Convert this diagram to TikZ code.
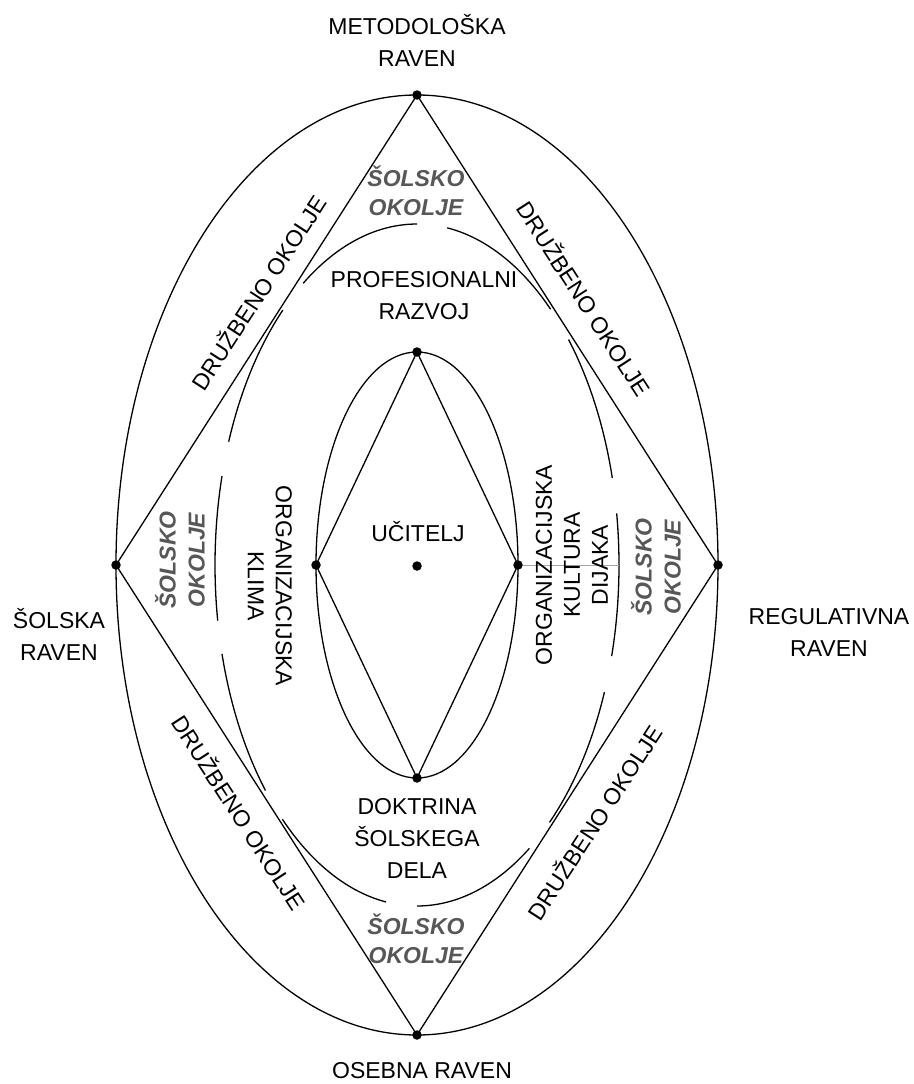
\documentclass[tikz,border=0pt]{standalone}
\usepackage{fontspec}
\setmainfont{Liberation Sans}
\begin{document}
\begin{tikzpicture}[x=1pt,y=-1pt,
  ln/.style={line width=1.3pt, black},
  dotnode/.style={circle, fill=black, inner sep=0pt, minimum size=9.5pt},
  lbl/.style={align=center, inner sep=0pt, font=\fontsize{23}{32}\selectfont},
  rlbl/.style={align=center, inner sep=0pt, font=\fontsize{23}{28}\selectfont},
  grey/.style={align=center, inner sep=0pt, text=black!66, font=\fontsize{23}{29}\selectfont\bfseries\itshape}
]
\fill[white] (0,0) rectangle (913,1084);
\useasboundingbox (0,0) rectangle (913,1084);

% centre
\coordinate (O) at (417,565);
% outer ellipse and diamond
\draw[ln] (O) ellipse [x radius=301, y radius=470];
\node[dotnode] (top) at (417,95) {};
\node[dotnode] (left) at (116,565) {};
\node[dotnode] (bottom) at (417,1035) {};
\node[dotnode] (right) at (718,565) {};
\draw[ln] (top.center) -- (left.center) -- (bottom.center) -- (right.center) -- cycle;

% middle broken ellipse
\foreach \a/\b in {90/124.3, 131.6/158.8, 164.9/189.4, 195.1/221.4, 228.2/261.2,
                   270/303.8, 311/338.1, 344.5/368.7, 374.8/401.4, 408.6/441.4}
  \draw[ln] plot[domain=\a:\b, samples=40, smooth] ({417+202*cos(\x)},{565-341*sin(\x)});

% inner ellipse and diamond
\draw[ln] (O) ellipse [x radius=101, y radius=213];
\node[dotnode] (itop) at (417,352) {};
\node[dotnode] (ileft) at (316,565) {};
\node[dotnode] (ibottom) at (417,778) {};
\node[dotnode] (iright) at (518,565) {};
\node[dotnode] (ctr) at (417,566) {};
\draw[ln] (itop.center) -- (ileft.center) -- (ibottom.center) -- (iright.center) -- cycle;
\coordinate (mr) at (619,565);
\draw[black!35, line width=0.7pt] (iright) -- (mr);

% outer labels
\node[lbl] (lmet) at (417,40) {METODOLOŠKA\\RAVEN};
\node[lbl] (lsol) at (59,634) {ŠOLSKA\\RAVEN};
\node[lbl] (lreg) at (829,632) {REGULATIVNA\\RAVEN};
\node[lbl] (lose) at (422,1071) {OSEBNA RAVEN};

% inner labels
\node[lbl] (lprof) at (424,296) {PROFESIONALNI\\RAZVOJ};
\node[lbl] (lucit) at (418,532) {UČITELJ};
\node[lbl] (ldokt) at (417,838) {DOKTRINA\\ŠOLSKEGA\\DELA};
\node[rlbl, rotate=-90] (lklim) at (270,586) {ORGANIZACIJSKA\\KLIMA};
\node[rlbl, rotate=90] (lkult) at (572,565) {ORGANIZACIJSKA\\KULTURA\\DIJAKA};

% grey labels
\node[grey] (gtop) at (416,191) {ŠOLSKO\\OKOLJE};
\node[grey] (gbot) at (416,939) {ŠOLSKO\\OKOLJE};
\node[grey, rotate=90] (gleft) at (180,560) {ŠOLSKO\\OKOLJE};
\node[grey, rotate=90] (gright) at (656,567) {ŠOLSKO\\OKOLJE};

% social environment labels
\node[lbl, rotate=57] (d1) at (258,292) {DRUŽBENO OKOLJE};
\node[lbl, rotate=-57] (d2) at (585,298) {DRUŽBENO OKOLJE};
\node[lbl, rotate=-57] (d3) at (240,812) {DRUŽBENO OKOLJE};
\node[lbl, rotate=57] (d4) at (594,822) {DRUŽBENO OKOLJE};
\end{tikzpicture}
\end{document}
